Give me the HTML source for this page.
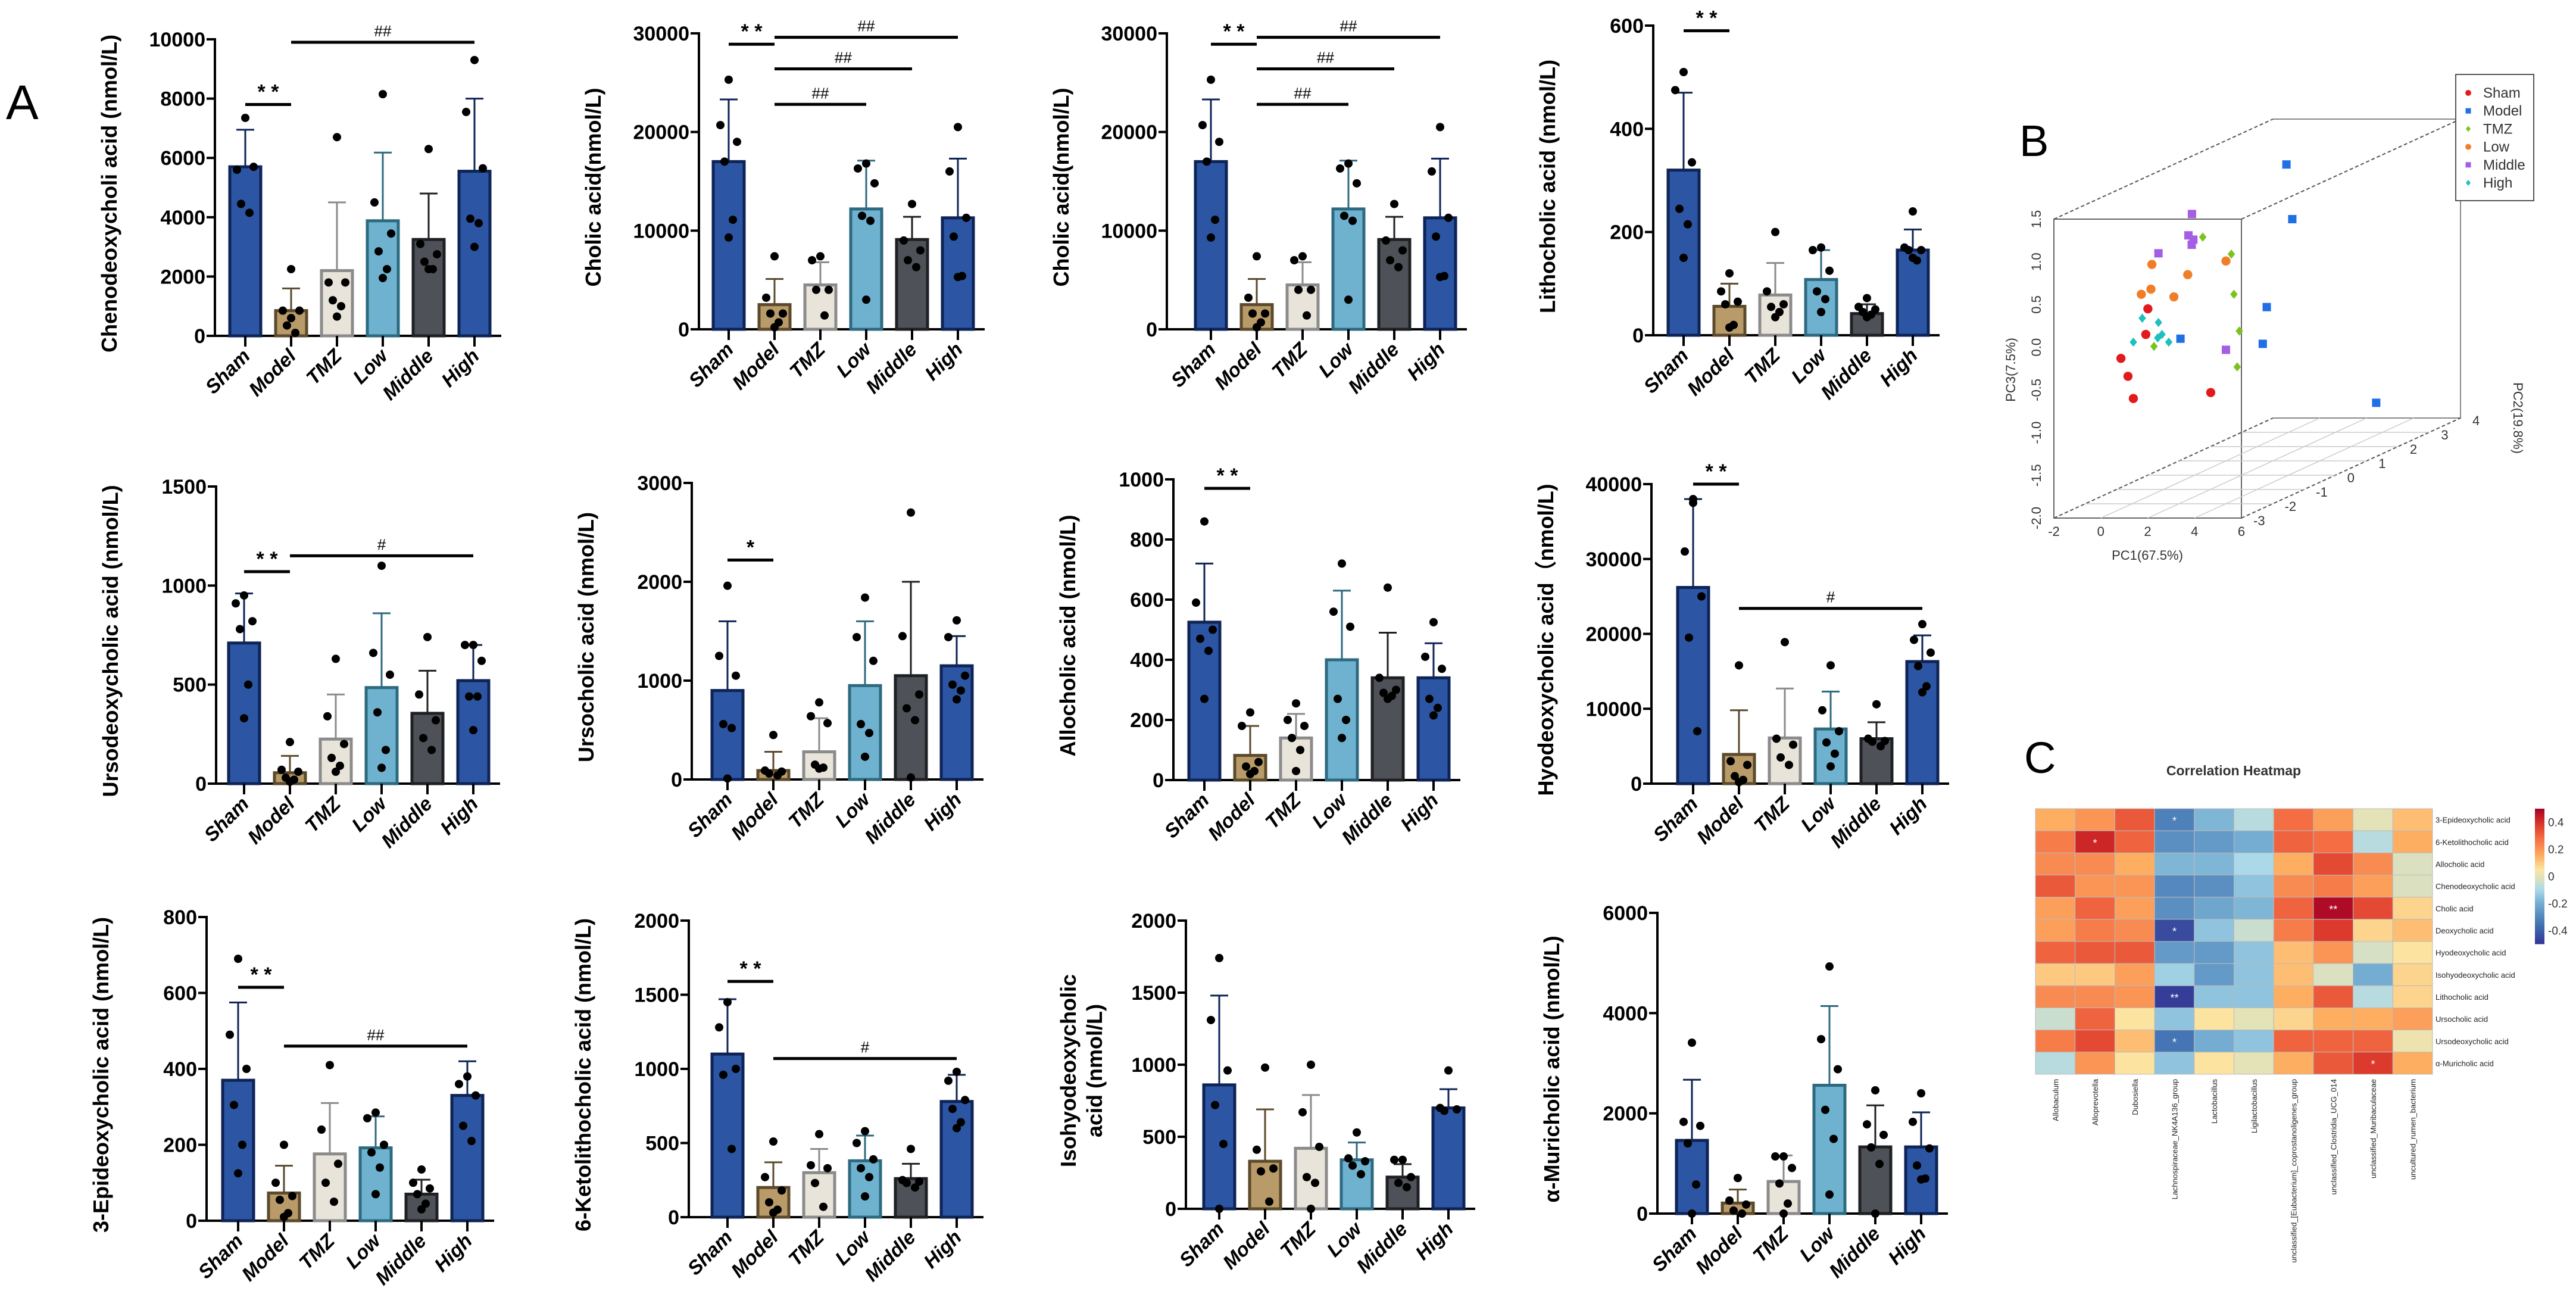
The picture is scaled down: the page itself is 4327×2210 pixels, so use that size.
<!DOCTYPE html>
<html><head><meta charset="utf-8"><style>
html,body{margin:0;padding:0;background:#fff}
svg{display:block;font-family:"Liberation Sans",Arial,sans-serif}
</style></head><body>
<svg id="fig" width="4327" height="2210" viewBox="0 0 4327 2210" xmlns="http://www.w3.org/2000/svg">
<rect width="4327" height="2210" fill="#fff"/>
<text x="10" y="200" font-size="82">A</text>
<text x="3392" y="262" font-size="74">B</text>
<text x="3400" y="1298" font-size="74">C</text>
<g id="bars"></g><g id="pca"></g><g id="heat"></g>
</svg>
<script>
const groups=["Sham","Model","TMZ","Low","Middle","High"];
// Panel data
const chenoMeans=[5700,850,2200,3880,3250,5550];
const chenoErrs=[6950,1600,4500,6180,4800,8000];
const chenoDots=[[7350,5600,5700,4450,4150],[2250,850,850,350,100,600],[6700,1800,1800,1200,1000,650],[8150,4500,3450,2850,2250,1950],[6300,3100,2750,2500,2250,2250],[9300,7550,5650,3950,3800,3000]];
const cholicMeans=[17000,2500,4500,12200,9100,11300];
const cholicErrs=[23300,5100,6800,17100,11400,17300];
const cholicDots=[[25300,20700,19000,17000,11100,9300],[7400,3200,1600,1600,700,200],[7400,7000,4000,4000,1400],[16800,16300,14800,11500,11000,3000],[12700,9000,8000,7000,6300],[20500,16000,11300,9400,5400,5300]];
const lithoMeans=[320,56,78,108,42,165];
const lithoErrs=[470,100,140,165,60,205];
const lithoDots=[[510,475,335,245,215,150],[120,85,65,60,20,15],[200,85,60,55,45,35],[170,165,125,85,70,45],[72,55,50,45,40,35],[240,170,165,165,145,150]];
const udcaMeans=[710,55,225,485,355,520];
const udcaErrs=[960,140,450,860,570,700];
const udcaDots=[[950,910,820,780,500,330],[210,70,60,30,20,10],[630,340,200,130,90,60],[1100,660,550,360,170,80],[740,450,320,230,170],[700,700,620,440,440,270]];
const ucaMeans=[900,90,280,950,1050,1150];
const ucaErrs=[1600,280,620,1600,2000,1450];
const ucaDots=[[1960,1250,1050,560,520,10],[450,90,80,60,40],[780,640,570,150,120,110],[1840,1440,1200,560,470,230],[2700,1450,860,720,600,20],[1610,1440,1050,960,900,810]];
const alloMeans=[525,82,140,400,340,340];
const alloErrs=[720,180,220,630,490,455];
const alloDots=[[860,590,500,470,430,270],[225,180,60,45,30,20],[255,200,180,140,100,30],[720,560,510,270,200,140],[640,340,300,290,280,270],[525,410,370,270,240,215]];
const hdcaMeans=[26200,3900,6100,7300,6000,16300];
const hdcaErrs=[38000,9800,12700,12300,8200,19800];
const hdcaDots=[[38000,31000,25000,19500,7000,37500],[15800,3000,2500,1000,500,200],[18900,6000,5200,3500,2500],[15800,9800,7000,5500,4000,2300],[10600,6000,5700,5600,5000],[21300,19200,17500,15700,13000,12200]];
const epiMeans=[370,73,176,192,70,330];
const epiErrs=[575,145,310,275,108,420];
const epiDots=[[690,490,400,305,200,125],[200,100,65,55,20,10],[410,240,150,100,50],[285,270,200,180,140,70],[135,100,85,70,45,30],[380,360,330,250,210]];
const ketoMeans=[1100,200,300,380,260,780];
const ketoErrs=[1470,370,460,550,360,960];
const ketoDots=[[1450,1280,1000,960,460],[510,270,180,100,50,30],[560,350,330,230,70],[580,500,390,330,270,140],[460,250,240,230,200],[980,920,790,730,640,600]];
const isoMeans=[860,330,420,340,220,700];
const isoErrs=[1480,690,790,460,310,830];
const isoDots=[[1740,1310,960,720,450,0],[980,410,280,260,50],[1000,670,430,220,180,0],[530,350,330,300,240],[340,340,220,180,150],[960,700,690,680]];
const amcaMeans=[1460,210,640,2560,1330,1330];
const amcaErrs=[2670,480,1160,4140,2160,2020];
const amcaDots=[[3410,1830,1750,1400,580,0],[710,260,180,60,0],[1140,1140,910,600,200,0],[4930,3480,2880,2070,1490,380],[2460,1780,1570,1320,990,0],[2400,1830,1300,960,700,680]];

const fills=["#2c56a4","#b99b69","#e9e4da","#6fb2cf","#4e5258","#2c56a4"];
const strokes=["#0e2356","#5b4a2c","#8b8b8b","#2d6a7f","#1e2024","#0e2356"];

const panels=[
 {id:"chenodeoxycholic",title:["Chenodeoxycholi acid (nmol/L)"],max:10000,step:2000,ax:361,s:412,top:66,zero:564,m:chenoMeans,e:chenoErrs,d:chenoDots,sig:[[0,1,7800,"* *"],[1,5,9900,"##"]]},
 {id:"cholic-1",title:["Cholic acid(nmol/L)"],max:30000,step:10000,ax:1174,s:1224,top:56,zero:553,m:cholicMeans,e:cholicErrs,d:cholicDots,sig:[[0,1,28900,"* *"],[1,5,29600,"##"],[1,4,26400,"##"],[1,3,22800,"##"]]},
 {id:"cholic-2",title:["Cholic acid(nmol/L)"],max:30000,step:10000,ax:1960,s:2034,top:56,zero:553,m:cholicMeans,e:cholicErrs,d:cholicDots,sig:[[0,1,28900,"* *"],[1,5,29600,"##"],[1,4,26400,"##"],[1,3,22800,"##"]]},
 {id:"lithocholic",title:["Lithocholic acid (nmol/L)"],max:600,step:200,ax:2777,s:2828,top:43,zero:563,m:lithoMeans,e:lithoErrs,d:lithoDots,sig:[[0,1,590,"* *"]]},
 {id:"ursodeoxycholic",title:["Ursodeoxycholic acid (nmol/L)"],max:1500,step:500,ax:363,s:410,top:817,zero:1316,m:udcaMeans,e:udcaErrs,d:udcaDots,sig:[[0,1,1070,"* *"],[1,5,1150,"#"]]},
 {id:"ursocholic",title:["Ursocholic acid (nmol/L)"],max:3000,step:1000,ax:1162,s:1222,top:811,zero:1309,m:ucaMeans,e:ucaErrs,d:ucaDots,sig:[[0,1,2220,"*"]]},
 {id:"allocholic",title:["Allocholic acid (nmol/L)"],max:1000,step:200,ax:1971,s:2023,top:805,zero:1310,m:alloMeans,e:alloErrs,d:alloDots,sig:[[0,1,970,"* *"]]},
 {id:"hyodeoxycholic",title:["Hyodeoxycholic acid（nmol/L)"],max:40000,step:10000,ax:2774,s:2844,top:813,zero:1316,m:hdcaMeans,e:hdcaErrs,d:hdcaDots,sig:[[0,1,40000,"* *"],[1,5,23400,"#"]]},
 {id:"epideoxycholic",title:["3-Epideoxycholic acid (nmol/L)"],max:800,step:200,ax:347,s:400,top:1540,zero:2050,m:epiMeans,e:epiErrs,d:epiDots,sig:[[0,1,615,"* *"],[1,5,460,"##"]]},
 {id:"ketolithocholic",title:["6-Ketolithocholic acid (nmol/L)"],max:2000,step:500,ax:1157,s:1222,top:1546,zero:2044,m:ketoMeans,e:ketoErrs,d:ketoDots,sig:[[0,1,1590,"* *"],[1,5,1070,"#"]]},
 {id:"isohyodeoxycholic",title:["Isohyodeoxycholic","acid (nmol/L)"],max:2000,step:500,ax:1992,s:2048,top:1546,zero:2030,m:isoMeans,e:isoErrs,d:isoDots,sig:[]},
 {id:"muricholic",title:["α-Muricholic acid (nmol/L)"],max:6000,step:2000,ax:2784,s:2842,top:1533,zero:2038,m:amcaMeans,e:amcaErrs,d:amcaDots,sig:[]}
];
const NS="http://www.w3.org/2000/svg";
function mk(parent,tag,attrs,txt){const el=document.createElementNS(NS,tag);for(const k in attrs)el.setAttribute(k,attrs[k]);if(txt!==undefined)el.textContent=txt;parent.appendChild(el);return el;}
const STEP=77,BW=52;
const barsG=document.getElementById("bars");
panels.forEach(p=>{
 const g=mk(barsG,"g",{});
 
 
 const y=v=>p.zero-(v/p.max)*(p.zero-p.top);
 const x=i=>p.s+i*STEP;
 const xEnd=x(5)+45;
 // axes
 const ya=mk(g,"line",{x1:p.ax,y1:p.top-2,x2:p.ax,y2:p.zero,stroke:"#000","stroke-width":4});
 
 
 const xa=mk(g,"line",{x1:p.ax-14,y1:p.zero,x2:xEnd,y2:p.zero,stroke:"#000","stroke-width":4});
 
 
 for(let v=0;v<=p.max+1e-9;v+=p.step){
  mk(g,"line",{x1:p.ax-14,y1:y(v),x2:p.ax,y2:y(v),stroke:"#000","stroke-width":4});
  const t=mk(g,"text",{x:p.ax-16,y:y(v)+12,"text-anchor":"end","font-size":34,"font-weight":"bold"},String(v));
  
  
 }
 // y title
 const tx=p.ax-165;
 const yc=(p.top+p.zero)/2+10;
 if(p.title.length===1){
  const t=mk(g,"text",{x:tx,y:yc,"text-anchor":"middle","font-size":36,"font-weight":"bold",transform:`rotate(-90 ${tx} ${yc})`},p.title[0]);
  
  
 } else {
  p.title.forEach((s,k)=>{
   const xx=tx-20+k*44;
   const t=mk(g,"text",{x:xx,y:yc,"text-anchor":"middle","font-size":36,"font-weight":"bold",transform:`rotate(-90 ${xx} ${yc})`},s);
   
   
  });
 }
 groups.forEach((gname,i)=>{
  const cx=x(i);
  const r=mk(g,"rect",{x:cx-BW/2,y:y(p.m[i]),width:BW,height:p.zero-y(p.m[i]),fill:fills[i],stroke:strokes[i],"stroke-width":5});
  
  
  const el=mk(g,"path",{d:`M${cx} ${y(p.m[i])} V${y(p.e[i])} M${cx-15} ${y(p.e[i])} H${cx+15}`,stroke:strokes[i],"stroke-width":3,fill:"none"});
  
  
  p.d[i].forEach((v,k)=>{
   const off=[0,-14,14,-7,7,0][k%6];
   const c=mk(g,"circle",{cx:cx+off,cy:y(v),r:7,fill:"#000"});
   
   
  });
  mk(g,"line",{x1:cx,y1:p.zero,x2:cx,y2:p.zero+18,stroke:"#000","stroke-width":4});
  const lx=cx+10,ly=p.zero+36;
  const t=mk(g,"text",{x:lx,y:ly,"text-anchor":"end","font-size":33,"font-weight":"bold","font-style":"italic",transform:`rotate(-45 ${lx} ${ly})`},gname);
  
  
 });
 p.sig.forEach(s=>{
  const yy=y(s[2]);
  const ln=mk(g,"line",{x1:x(s[0]),y1:yy,x2:x(s[1]),y2:yy,stroke:"#000","stroke-width":5});
  
  
  const t=mk(g,"text",{x:(x(s[0])+x(s[1]))/2,y:yy-10,"text-anchor":"middle","font-size":s[3].includes("#")?26:34,"font-weight":s[3].includes("#")?"normal":"bold"},s[3]);
  
  
 });
});

// ===== PCA 3D (projected coordinates in PC1 / PC3 units) =====
const pcaGroups=["Sham","Model","TMZ","Low","Middle","High"];
const pcaColors=["#e31a1c","#1f6fe5","#7cc21f","#f07e26","#a45ee5","#1fbfbf"];
const pcaShapes=["circle","square","diamond","circle","square","diamond"];
const shamPC1=[2.01,1.92,0.86,1.16,1.39,4.69], shamPC3=[0.45,0.15,-0.13,-0.34,-0.60,-0.53];
const modelPC1=[7.92,8.17,7.08,6.91,3.40,11.75], modelPC3=[2.14,1.50,0.47,0.04,0.10,-0.65];
const tmzPC1=[4.35,5.57,5.68,5.91,5.82,2.27], tmzPC3=[1.29,1.09,0.62,0.19,-0.23,0.01];
const lowPC1=[2.18,3.71,2.14,1.73,3.12,5.34], lowPC3=[0.97,0.85,0.68,0.62,0.59,1.01];
const middlePC1=[3.89,3.74,3.95,3.88,2.46,5.34], middlePC3=[1.56,1.31,1.26,1.20,1.10,-0.03];
const highPC1=[1.77,2.46,2.61,2.43,1.39,2.90], highPC3=[0.34,0.29,0.15,0.11,0.06,0.06];
const pc1Ticks=[-2,0,2,4,6];
const pc3Ticks=[-2.0,-1.5,-1.0,-0.5,0.0,0.5,1.0,1.5];
const pc2Ticks=[-3,-2,-1,0,1,2,3,4];
(function(){
 const G=document.getElementById("pca");
 const FL=3450,FR=3765,FT=368,FB=870,DX=368,DY=-168;
 const px=v=>FL+(v+2)/8*(FR-FL);
 const py=v=>FB-(v+2)/3.5*(FB-FT);
 const box=mk(G,"g",{stroke:"#666","stroke-width":2,fill:"none"});
 
 
 mk(box,"rect",{x:FL,y:FT,width:FR-FL,height:FB-FT});
 mk(box,"path",{d:`M${FR+DX} ${FT+DY} V${FB+DY} H${FL+DX}`,stroke:"#888"});
 mk(box,"path",{d:`M${FR+DX} ${FT+DY} H${FL+DX}`,stroke:"#888"});
 [[FL,FT],[FR,FT],[FL,FB],[FR,FB]].forEach(c=>mk(box,"line",{x1:c[0],y1:c[1],x2:c[0]+DX,y2:c[1]+DY,"stroke-dasharray":"6 4",stroke:"#555"}));
 // floor grid
 for(let k=1;k<7;k++){const f=k/7;mk(box,"line",{x1:FL+DX*f,y1:FB+DY*f,x2:FR+DX*f,y2:FB+DY*f,stroke:"#ccc","stroke-width":1.5});}
 for(let k=1;k<4;k++){const f=k/4;const xx=FL+(FR-FL)*f;mk(box,"line",{x1:xx,y1:FB,x2:xx+DX,y2:FB+DY,stroke:"#ccc","stroke-width":1.5});}
 pc1Ticks.forEach(v=>{const t=mk(G,"text",{x:px(v),y:FB+30,"text-anchor":"middle","font-size":22,fill:"#333"},String(v));});
 pc3Ticks.forEach(v=>{const xx=FL-22,yy=py(v);const t=mk(G,"text",{x:xx,y:yy,"text-anchor":"middle","font-size":22,fill:"#333",transform:`rotate(-90 ${xx} ${yy})`},v.toFixed(1));});
 pc2Ticks.forEach((v,k)=>{const f=k/7;const t=mk(G,"text",{x:FR+20+DX*f,y:FB+12+DY*f,"text-anchor":"start","font-size":22,fill:"#333"},String(v));});
 let t=mk(G,"text",{x:3607,y:940,"text-anchor":"middle","font-size":22,fill:"#333"},"PC1(67.5%)");
 
 t=mk(G,"text",{x:3385,y:621,"text-anchor":"middle","font-size":22,fill:"#333",transform:"rotate(-90 3385 621)"},"PC3(7.5%)");
 
 t=mk(G,"text",{x:4222,y:702,"text-anchor":"middle","font-size":22,fill:"#333",transform:"rotate(90 4222 702)"},"PC2(19.8%)");
 
 const sets=[[shamPC1,shamPC3],[modelPC1,modelPC3],[tmzPC1,tmzPC3],[lowPC1,lowPC3],[middlePC1,middlePC3],[highPC1,highPC3]];
 function marker(par,shape,cx,cy,s,col){
  if(shape==="circle")return mk(par,"circle",{cx,cy,r:s*0.55,fill:col});
  if(shape==="square")return mk(par,"rect",{x:cx-s/2,y:cy-s/2,width:s,height:s,fill:col});
  return mk(par,"path",{d:`M${cx} ${cy-s*0.55}L${cx+s*0.45} ${cy}L${cx} ${cy+s*0.55}L${cx-s*0.45} ${cy}Z`,fill:col});
 }
 sets.forEach((st,gi)=>{
  st[0].forEach((v,k)=>{
   const m=marker(G,pcaShapes[gi],px(v),py(st[1][k]),14,pcaColors[gi]);
   
   
  });
 });
 const lg=mk(G,"g",{});
 
 
 mk(lg,"rect",{x:4125,y:125,width:131,height:212,fill:"#fff",stroke:"#555","stroke-width":2});
 pcaGroups.forEach((n,i)=>{
  const yy=156+i*30.2;
  marker(lg,pcaShapes[i],4146,yy,9,pcaColors[i]);
  const tt=mk(lg,"text",{x:4171,y:yy+8,"font-size":24,fill:"#333"},n);
  
  
 });
})();

// ===== Correlation heatmap =====
const heatRows=["3-Epideoxycholic acid","6-Ketolithocholic acid","Allocholic acid","Chenodeoxycholic acid","Cholic acid","Deoxycholic acid","Hyodeoxycholic acid","Isohyodeoxycholic acid","Lithocholic acid","Ursocholic acid","Ursodeoxycholic acid","α-Muricholic acid"];
const heatCols=["Allobaculum","Alloprevotella","Dubosiella","Lachnospiraceae_NK4A136_group","Lactobacillus","Ligilactobacillus","unclassified_[Eubacterium]_coprostanoligenes_group","unclassified_Clostridia_UCG_014","unclassified_Muribaculaceae","uncultured_rumen_bacterium"];
const heatValues=[
 [0.15,0.20,0.32,-0.32,-0.18,-0.08,0.28,0.18,0.00,0.12],
 [0.25,0.42,0.30,-0.28,-0.25,-0.20,0.30,0.28,-0.08,0.15],
 [0.22,0.22,0.15,-0.18,-0.18,-0.10,0.15,0.35,0.22,-0.02],
 [0.32,0.20,0.20,-0.30,-0.28,-0.15,0.22,0.25,0.18,-0.02],
 [0.18,0.30,0.18,-0.28,-0.22,-0.18,0.30,0.48,0.35,0.08],
 [0.18,0.25,0.22,-0.45,-0.15,-0.05,0.25,0.38,0.08,0.12],
 [0.30,0.32,0.32,-0.25,-0.25,-0.15,0.12,0.20,-0.03,0.05],
 [0.10,0.10,0.18,-0.12,-0.25,-0.15,0.12,-0.02,-0.20,0.08],
 [0.22,0.22,0.20,-0.48,-0.15,-0.15,0.15,0.32,-0.08,0.08],
 [-0.05,0.30,0.05,-0.15,0.05,0.00,0.08,0.15,0.15,0.18],
 [0.25,0.35,0.12,-0.35,-0.20,-0.15,0.30,0.30,0.30,0.02],
 [-0.08,0.20,0.05,-0.15,0.05,0.00,0.15,0.32,0.38,0.15]];
const heatStars=[[0,3,"*"],[1,1,"*"],[4,7,"**"],[5,3,"*"],[8,3,"**"],[10,3,"*"],[11,8,"*"]];
const scaleTicks=[0.4,0.2,0,-0.2,-0.4];
(function(){
 const G=document.getElementById("heat");
 const L=3419,R=4086,T=1358,B=1804;
 const cw=(R-L)/heatCols.length,ch=(B-T)/heatRows.length;
 const stops=[[-0.5,[49,54,149]],[-0.35,[69,117,180]],[-0.2,[116,173,209]],[-0.1,[171,217,233]],[-0.03,[214,224,196]],[0.05,[252,228,160]],[0.15,[253,174,97]],[0.28,[244,109,67]],[0.4,[215,48,39]],[0.5,[165,0,38]]];
 function col(v){v=Math.max(-0.5,Math.min(0.5,v));for(let i=0;i<stops.length-1;i++){const a=stops[i],b=stops[i+1];if(v<=b[0]){const f=(v-a[0])/(b[0]-a[0]);return `rgb(${a[1].map((c,k)=>Math.round(c+(b[1][k]-c)*f)).join(",")})`;}}return "rgb(165,0,38)";}
 let t=mk(G,"text",{x:3752,y:1302,"text-anchor":"middle","font-size":23,"font-weight":"bold",fill:"#333"},"Correlation Heatmap");
 
 heatValues.forEach((row,r)=>row.forEach((v,c)=>{
  const cell=mk(G,"rect",{x:L+c*cw,y:T+r*ch,width:cw,height:ch,fill:col(v),stroke:"#bbb","stroke-width":1});
  
  
 }));
 heatStars.forEach(s=>{const st=mk(G,"text",{x:L+(s[1]+0.5)*cw,y:T+(s[0]+0.5)*ch+8,"text-anchor":"middle","font-size":18,fill:"#fff"},s[2]);});
 heatRows.forEach((n,r)=>{const tt=mk(G,"text",{x:R+5,y:T+(r+0.5)*ch+5,"font-size":13,fill:"#222"},n);});
 heatCols.forEach((n,c)=>{const xx=L+(c+0.5)*cw+5,yy=B+8;const tt=mk(G,"text",{x:xx,y:yy,"text-anchor":"end","font-size":13,fill:"#222",transform:`rotate(-90 ${xx} ${yy})`},n);});
 // color bar
 const cb=mk(G,"g",{});
 
 
 const cT=1358,cB=1585;
 for(let k=0;k<60;k++){const v=0.5-k/60;mk(cb,"rect",{x:4258,y:cT+k*(cB-cT)/60,width:16,height:(cB-cT)/60+0.6,fill:col(v-1/120)});}
 scaleTicks.forEach(v=>{const yy=cT+(0.5-v)*(cB-cT);const tt=mk(cb,"text",{x:4280,y:yy+7,"font-size":19,fill:"#333"},String(v));});
})();
</script>
</body></html>
